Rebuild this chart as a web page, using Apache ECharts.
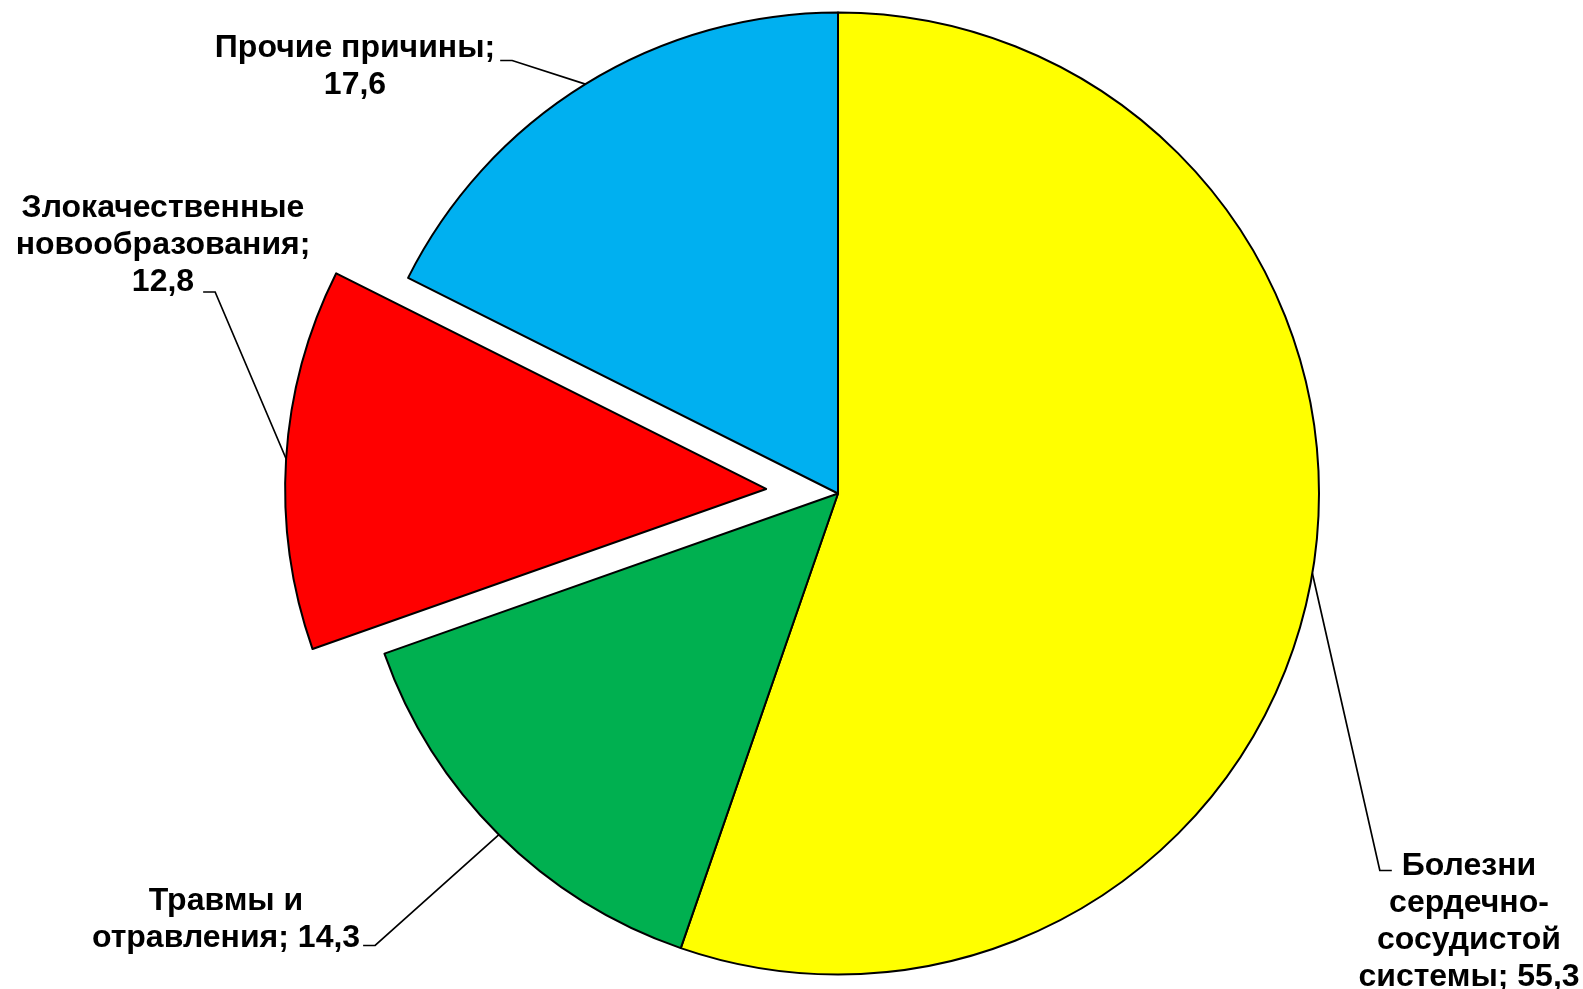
<!DOCTYPE html>
<html lang="ru">
<head>
<meta charset="utf-8">
<title>Структура причин смертности</title>
<script src="https://cdn.jsdelivr.net/npm/echarts@6/dist/echarts.min.js"></script>
<style>
  html, body { margin: 0; padding: 0; background: #ffffff; }
  #chart { width: 1583px; height: 989px; }
</style>
</head>
<body>
<div id="chart"></div>
<script>
// Causes of death, percent of total
const categories = [
  'Болезни\nсердечно-\nсосудистой\nсистемы',
  'Травмы и\nотравления',
  'Злокачественные\nновообразования',
  'Прочие причины'
];
const values = [55.3, 14.3, 12.8, 17.6];
// what follows the name before the value in each label
const valueSeparators = ['; ', '; ', ';\n', ';\n'];
const colors = ['#FFFF00', '#00B050', '#FF0000', '#00B0F0'];
// the slice pulled out of the pie
const explodedIndex = 2;

const FONT_FAMILY = '"Liberation Sans", Arial, sans-serif';
const FONT_SIZE = 32;
const LINE_HEIGHT = 37;

const PIE_CENTER = [838, 493.5];
const PIE_RADIUS = 481;
const EXPLODE_DISTANCE = 72;

// Label blocks: centre of the block, the text line the leader joins,
// which side it leaves from, the gap to the text and the leader's vertical shift
const labelPlacement = [
  { x: 1469, y: 922, line: 0, side: 'left', gap: 10, dy: 4 },
  { x: 226, y: 920, line: 1, side: 'right', gap: 3, dy: 7 },
  { x: 163, y: 245, line: 2, side: 'right', gap: 9, dy: 10 },
  { x: 355, y: 67, line: 0, side: 'right', gap: 5, dy: 12 }
];

function formatValue(v) {
  return v.toFixed(1).replace('.', ',');
}

function labelText(i) {
  return categories[i] + valueSeparators[i] + formatValue(values[i]);
}

const measureCtx = document.createElement('canvas').getContext('2d');
measureCtx.font = 'bold ' + FONT_SIZE + 'px ' + FONT_FAMILY;
function textWidth(s) {
  return measureCtx.measureText(s).width;
}

// Centre of the pulled-out slice: moved along the bisector of that slice
function explodedCenter() {
  const total = values.reduce((a, b) => a + b, 0);
  const before = values.slice(0, explodedIndex).reduce((a, b) => a + b, 0);
  const frac = (before + values[explodedIndex] / 2) / total;
  const ang = frac * 2 * Math.PI; // clockwise from 12 o'clock
  return [
    PIE_CENTER[0] + Math.sin(ang) * EXPLODE_DISTANCE,
    PIE_CENTER[1] - Math.cos(ang) * EXPLODE_DISTANCE
  ];
}

function hiddenItem() {
  return {
    itemStyle: { color: 'rgba(0,0,0,0)', borderWidth: 0 },
    label: { show: false },
    labelLine: { show: false }
  };
}

function buildData(visible) {
  return values.map((v, i) => {
    const item = { name: categories[i], value: v };
    if (visible(i)) {
      item.itemStyle = { color: colors[i] };
    } else {
      Object.assign(item, hiddenItem());
    }
    return item;
  });
}

function layoutLabel(params) {
  const i = params.dataIndex;
  const place = labelPlacement[i];
  const lines = labelText(i).split('\n');
  const blockTop = place.y - (lines.length * LINE_HEIGHT) / 2;
  const lineY = blockTop + LINE_HEIGHT * (place.line + 0.5) + place.dy;
  const half = textWidth(lines[place.line]) / 2;
  const dir = place.side === 'right' ? 1 : -1;
  const endX = place.x + dir * (half + place.gap);
  const elbowX = endX + dir * 12;
  const start = params.labelLinePoints ? params.labelLinePoints[0] : [elbowX, lineY];
  return {
    x: place.x,
    y: place.y,
    align: 'center',
    verticalAlign: 'middle',
    labelLinePoints: [start, [elbowX, lineY], [endX, lineY]]
  };
}

function pieSeries(center, visible) {
  return {
    type: 'pie',
    center: center,
    radius: PIE_RADIUS,
    startAngle: 90,
    clockwise: true,
    avoidLabelOverlap: false,
    silent: true,
    data: buildData(visible),
    itemStyle: { borderColor: '#000000', borderWidth: 2 },
    emphasis: { disabled: true },
    label: {
      show: true,
      position: 'outside',
      color: '#000000',
      fontFamily: FONT_FAMILY,
      fontWeight: 'bold',
      fontSize: FONT_SIZE,
      lineHeight: LINE_HEIGHT,
      align: 'center',
      formatter: (p) => labelText(p.dataIndex)
    },
    labelLine: {
      show: true,
      length: 20,
      length2: 12,
      lineStyle: { color: '#000000', width: 1.7 }
    },
    labelLayout: layoutLabel
  };
}

const chart = echarts.init(document.getElementById('chart'), null, { renderer: 'canvas' });

chart.setOption({
  animation: false,
  backgroundColor: '#ffffff',
  series: [
    pieSeries(PIE_CENTER, (i) => i !== explodedIndex),
    pieSeries(explodedCenter(), (i) => i === explodedIndex)
  ]
});
</script>
</body>
</html>
